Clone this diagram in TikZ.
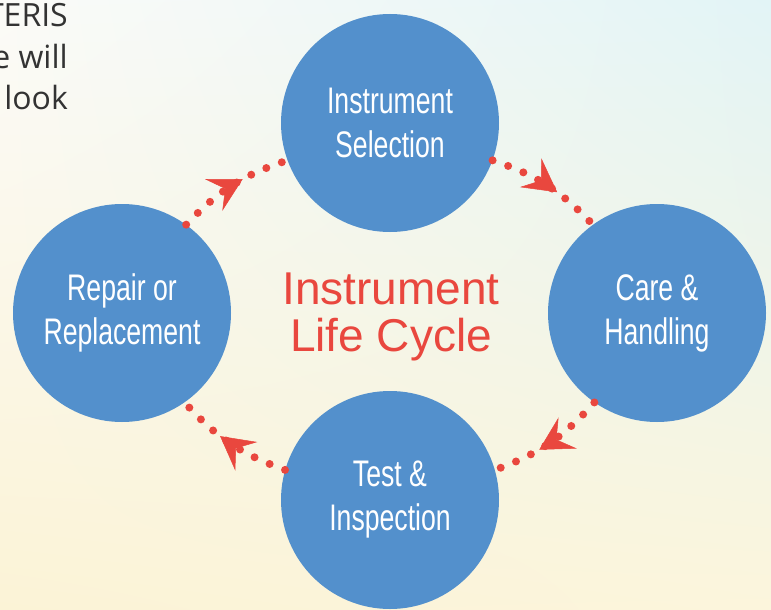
\documentclass[tikz,border=0pt]{standalone}
\usepackage{fontspec}
\setmainfont{Liberation Sans}
\newfontfamily\circfont[FakeStretch=0.72]{Liberation Sans}
\newfontfamily\bodyfont{Open Sans}
\newfontfamily\handfont{Liberation Sans}
\usetikzlibrary{arrows.meta,decorations.markings,shadings}
\definecolor{circblue}{RGB}{83,144,204}
\definecolor{arrred}{RGB}{233,71,62}
\definecolor{bodygray}{RGB}{51,51,51}
\definecolor{bgul}{RGB}{251,251,248}
\definecolor{bgur}{RGB}{226,244,246}
\definecolor{bgll}{RGB}{251,243,214}
\definecolor{bglr}{RGB}{252,245,220}
\begin{document}
\begin{tikzpicture}[x=1pt,y=-1pt,
  stage/.style={circle, fill=circblue, minimum size=218pt, inner sep=0pt, text=white,
    align=center, font=\circfont\fontsize{37}{44}\selectfont},
  flow/.style={arrred, line width=8pt, line cap=round, dash pattern=on 0pt off 16.5pt,
    bend left=14, postaction={decorate},
    decoration={markings, mark=at position 0.6 with
      {\arrow[solid]{Stealth[length=33pt,width=36pt,inset=13pt,line width=0.5pt]}}}},
  body/.style={anchor=base east, inner sep=0pt, text=bodygray, font=\bodyfont\fontsize{32}{32}\selectfont},
  title/.style={anchor=base, inner sep=0pt, text=arrred, font=\handfont\fontsize{46}{50}\selectfont}
]
\shade[upper left=bgul, upper right=bgur, lower left=bgll, lower right=bglr] (0,0) rectangle (771,610);
\useasboundingbox (0,0) rectangle (771,610);

\node[body] (t1) at (68,27) {TERIS};
\node[body] (t2) at (68,68) {e will};
\node[body] (t3) at (68,110) {look};

\node[stage] (sel) at (390,123) {Instrument\\Selection};
\node[stage] (care) at (657,313) {Care \&\\Handling};
\node[stage] (test) at (390,500) {Test \&\\Inspection};
\node[stage] (rep) at (122,313) {Repair or\\Replacement};

\node[title] (h1) at (391,304) {Instrument};
\node[title] (h2) at (391,351) {Life Cycle};

\draw[flow] (sel.-20) to (care.126);
\draw[flow] (care.235) to (test.16);
\draw[flow] (test.164) to (rep.305);
\draw[flow] (rep.54) to (sel.200);
\end{tikzpicture}
\end{document}
